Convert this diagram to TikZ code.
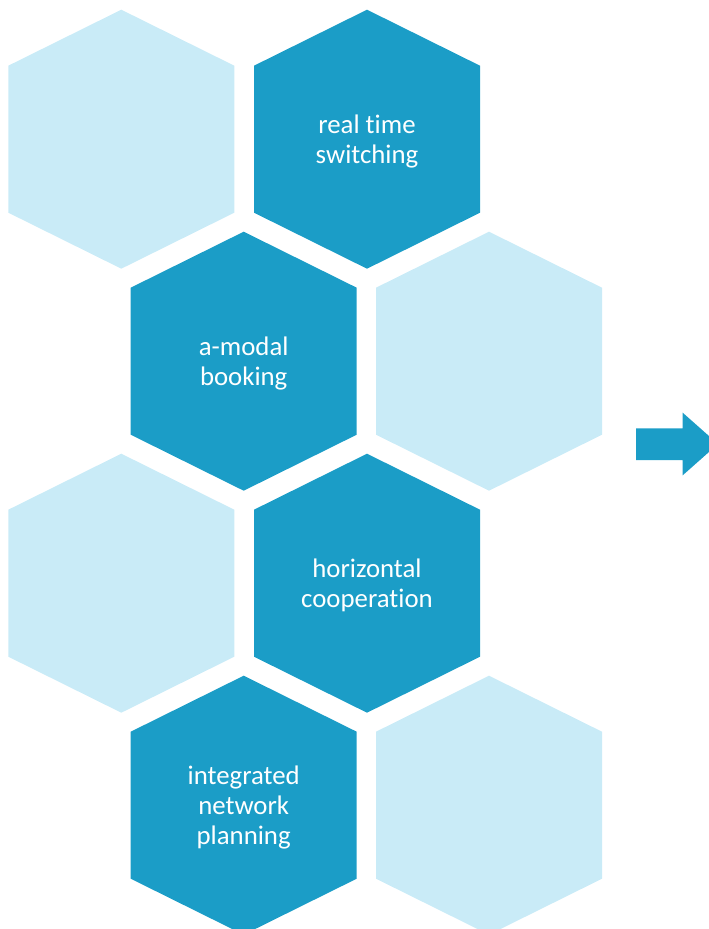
\documentclass[tikz,border=0pt]{standalone}
\usepackage{fontspec}
\setmainfont[Ligatures=NoCommon]{Carlito}
\definecolor{hexdark}{RGB}{27,157,199}
\definecolor{hexlight}{RGB}{201,235,247}
\tikzset{
  x=1pt, y=-1pt,
  hexlabel/.style={text=white, align=center, font=\fontsize{26.8}{30}\selectfont, inner sep=0pt, yshift=-2pt},
}
% #1 x, #2 y, #3 colour, #4 name, #5 text
\newcommand{\hexcell}[5]{%
  \fill[#3] (#1,#2) ++(0,-129.5) -- ++(113,56) -- ++(0,147) -- ++(-113,56) -- ++(-113,-56) -- ++(0,-147) -- cycle;
  \node[hexlabel] (#4) at (#1,#2) {#5};
}
\begin{document}
\begin{tikzpicture}
\useasboundingbox (0,0) rectangle (709,929);
\clip (0,0) rectangle (709,929);
% row 1
\hexcell{121.3}{139.2}{hexlight}{h1a}{}
\hexcell{367}{139.2}{hexdark}{rts}{real time\\switching}
% row 2
\hexcell{243.7}{361.2}{hexdark}{amb}{a-modal\\booking}
\hexcell{489}{361.2}{hexlight}{h2b}{}
% row 3
\hexcell{121.3}{583.2}{hexlight}{h3a}{}
\hexcell{367}{583.2}{hexdark}{hc}{horizontal\\cooperation}
% row 4
\hexcell{243.7}{805.2}{hexdark}{inp}{integrated\\network\\planning}
\hexcell{489}{805.2}{hexlight}{h4b}{}
% arrow
\fill[hexdark] (636,428.3) -- (682.7,428.3) -- (682.7,412.7) -- (718,444) -- (682.7,475.3) -- (682.7,460) -- (636,460) -- cycle;
\end{tikzpicture}
\end{document}
